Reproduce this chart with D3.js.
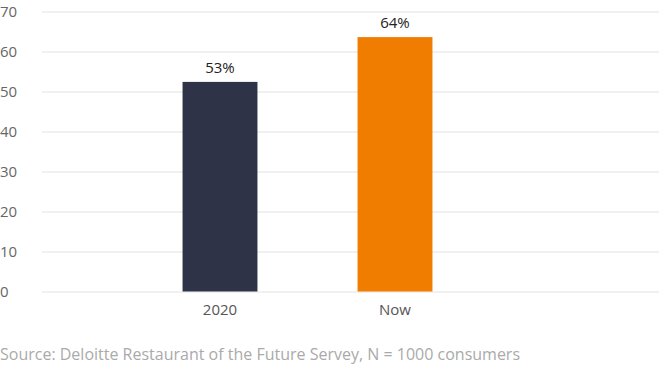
<!DOCTYPE html>
<html>
<head>
<meta charset="utf-8">
<script src="https://cdn.jsdelivr.net/npm/d3@7"></script>
<style>
  body { margin: 0; background: #fff; }
  text { font-family: "Open Sans", "Noto Sans", sans-serif; }
  .grid line { stroke: #e2e2e2; stroke-width: 1; }
  .grid .domain { display: none; }
</style>
</head>
<body>
<svg id="chart" width="659" height="367"></svg>
<script>
// chart data
const categories = ['2020', 'Now'];
const values = [52.4, 63.6];
const valueLabels = ['53%', '64%'];
const barColors = ['#2e3347', '#f07c00'];
const yTicks = [0, 10, 20, 30, 40, 50, 60, 70];
const sourceText = 'Source: Deloitte Restaurant of the Future Servey, N = 1000 consumers';

const svg = d3.select('#chart');
const margin = { left: 42, right: 0, top: 11.5, bottom: 75.5 };
const width = 659 - margin.left - margin.right;
const height = 367 - margin.top - margin.bottom;

const chart = svg.append('g')
    .attr('transform', `translate(${margin.left}, ${margin.top})`);

// scales
const yScale = d3.scaleLinear().domain([0, 70]).range([height, 0]);
const xScale = d3.scaleBand()
    .domain(categories)
    .range([90.5, 440.5])
    .paddingInner(0.572)
    .paddingOuter(0.286);

// gridlines
chart.append('g').attr('class', 'grid')
    .call(d3.axisLeft(yScale).tickValues(yTicks).tickSize(-width).tickFormat(''));

// y tick labels, left aligned at the page edge
svg.append('g').selectAll('text')
    .data(yTicks)
    .enter().append('text')
    .attr('x', 0)
    .attr('y', d => margin.top + yScale(d))
    .attr('dy', '0.35em')
    .attr('fill', '#666')
    .style('font-size', '15px')
    .text(d => d);

// bars
chart.selectAll('.bar')
    .data(values)
    .enter().append('rect')
    .attr('class', 'bar')
    .attr('x', (d, i) => xScale(categories[i]))
    .attr('y', d => yScale(d))
    .attr('width', xScale.bandwidth())
    .attr('height', d => height - yScale(d))
    .style('fill', (d, i) => barColors[i]);

// value labels
chart.selectAll('.value')
    .data(values)
    .enter().append('text')
    .attr('class', 'value')
    .attr('x', (d, i) => xScale(categories[i]) + xScale.bandwidth() / 2)
    .attr('y', d => yScale(d) - 9)
    .attr('text-anchor', 'middle')
    .attr('fill', '#222')
    .style('font-size', '15px')
    .text((d, i) => valueLabels[i]);

// x axis labels
const xAxis = chart.append('g')
    .attr('transform', `translate(0, ${height})`)
    .call(d3.axisBottom(xScale).tickSize(0).tickPadding(13));
xAxis.select('.domain').remove();
xAxis.selectAll('text')
    .attr('fill', '#555')
    .style('font-size', '15px')
    .style('font-family', '"Open Sans", "Noto Sans", sans-serif');

// source note
svg.append('text')
    .attr('x', 0)
    .attr('y', 360)
    .attr('fill', '#aaa')
    .style('font-size', '16px')
    .text(sourceText);
</script>
</body>
</html>
